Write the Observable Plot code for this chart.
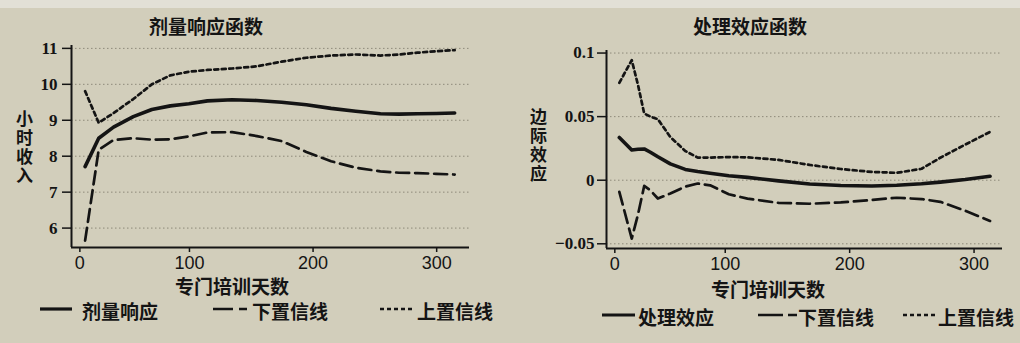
<!DOCTYPE html>
<html><head><meta charset="utf-8">
<script src="https://cdn.jsdelivr.net/npm/d3@7"></script>
<script src="https://cdn.jsdelivr.net/npm/@observablehq/plot@0.6"></script>
<style>
body{margin:0;background:#d2cebb;}
#root{position:relative;width:1020px;height:343px;overflow:hidden;background:#d2cebb;font-family:"Noto Sans CJK SC",sans-serif;color:#141414;}
#topband{position:absolute;left:0;top:0;width:1020px;height:8px;background:#e2e0d6;}
.abs{position:absolute;}
.ctr{white-space:nowrap;transform:translate(-50%,-50%);font-weight:700;}
.title{font-size:19px;}
.xlab{font-size:19px;}
.ylab{font-size:17px;line-height:20px;font-weight:700;writing-mode:vertical-rl;text-orientation:upright;letter-spacing:2px;white-space:nowrap;}
.leg{font-size:19px;font-weight:700;white-space:nowrap;transform:translateY(-50%);}
#root svg g[aria-label="y-axis tick label"]{font-weight:700 !important;font-family:"Liberation Serif",serif !important;font-size:17px !important;}
#root svg g[aria-label="x-axis tick label"]{font-family:"Liberation Sans",Arial,sans-serif !important;font-size:18px !important;}
</style></head>
<body><div id="root"><div id="topband"></div></div>
<script>
// ---- data: left panel (dose response) ----
const leftDays  = [1, 12, 24, 40, 55, 70, 85, 100, 120, 140, 160, 180, 200, 220, 240, 255, 270, 285, 300];
const doseResp  = [7.71, 8.5, 8.81, 9.1, 9.3, 9.4, 9.46, 9.54, 9.57, 9.55, 9.5, 9.43, 9.33, 9.25, 9.18, 9.17, 9.18, 9.19, 9.2];
const doseLow   = [5.65, 8.18, 8.45, 8.5, 8.46, 8.47, 8.55, 8.66, 8.67, 8.56, 8.42, 8.12, 7.86, 7.68, 7.58, 7.54, 7.53, 7.51, 7.49];
const doseHigh  = [9.81, 8.93, 9.2, 9.59, 10.0, 10.25, 10.35, 10.4, 10.44, 10.5, 10.63, 10.74, 10.8, 10.83, 10.8, 10.83, 10.88, 10.92, 10.95];
// ---- data: right panel (treatment effect) ----
const rightDays = [2, 12, 17, 22, 27, 33, 43, 55, 65, 75, 90, 105, 130, 155, 180, 205, 225, 245, 260, 280, 300];
const treatEff  = [0.0336, 0.0238, 0.0243, 0.0246, 0.022, 0.0184, 0.0128, 0.0085, 0.0068, 0.0055, 0.0035, 0.0022, -0.0005, -0.003, -0.0042, -0.0045, -0.004, -0.0028, -0.0015, 0.0005, 0.0031];
const treatLow  = [-0.0092, -0.0459, -0.027, -0.0045, -0.008, -0.0144, -0.0105, -0.005, -0.0026, -0.004, -0.011, -0.0145, -0.0178, -0.0185, -0.0175, -0.0155, -0.0138, -0.0148, -0.017, -0.024, -0.032];
const treatHigh = [0.0766, 0.0944, 0.075, 0.0525, 0.05, 0.048, 0.034, 0.023, 0.0178, 0.0178, 0.0182, 0.018, 0.016, 0.012, 0.0088, 0.0065, 0.0058, 0.009, 0.0177, 0.028, 0.038];
// ---- ticks and labels ----
const leftYTicks  = [6, 7, 8, 9, 10, 11];
const rightYTicks = [-0.05, 0, 0.05, 0.1];
const xTicks = [0, 100, 200, 300];
const leftTitle = "剂量响应函数", rightTitle = "处理效应函数";
const leftYLabel = "小时收入", rightYLabel = "边际效应";
const xLabel = "专门培训天数";
const leftLegend  = ["剂量响应", "下置信线", "上置信线"];
const rightLegend = ["处理效应", "下置信线", "上置信线"];

const INK = "#141414";
const rows = (days, vals) => days.map((d, i) => ({day: d, v: vals[i]}));
const root = document.getElementById("root");

function panel(o) {
  const [y0] = o.yDomain;
  const [x0] = o.xDomain;
  const tickFont = {fontSize: 17, fontWeight: "bold", fontFamily: "Liberation Serif", fill: INK};
  const xFont = {fontSize: 18, fontFamily: "Liberation Sans", fill: INK};
  return Plot.plot({
    width: 510, height: o.height,
    marginLeft: o.ml, marginRight: o.mr, marginTop: o.mt, marginBottom: o.mb,
    style: {background: "transparent", color: INK, overflow: "visible"},
    x: {domain: o.xDomain},
    y: {domain: o.yDomain},
    marks: [
      Plot.ruleY(o.yTicks, {stroke: "#8e8a7a", strokeDasharray: "1.5,2.5", strokeWidth: 1}),
      Plot.axisY(o.yTicks, {tickSize: o.yTickSize, tickPadding: o.yPad, strokeWidth: 1.5, label: null, tickFormat: o.yFmt, ...tickFont}),
      Plot.axisX([xTicks[0]], {tickSize: 5, tickPadding: 4, strokeWidth: 1.5, label: null, dx: o.dx0, ...xFont}),
      Plot.axisX(xTicks.slice(1), {tickSize: 5, tickPadding: 4, strokeWidth: 1.5, label: null, dx: o.dx1, ...xFont}),
      Plot.ruleX([x0], {stroke: INK, strokeWidth: 2}),
      Plot.ruleY([y0], {stroke: INK, strokeWidth: 2}),
      Plot.line(rows(o.days, o.high), {x: "day", y: "v", stroke: INK, strokeWidth: 2.7, strokeDasharray: "4,3.5"}),
      Plot.line(rows(o.days, o.low), {x: "day", y: "v", stroke: INK, strokeWidth: 2.7, strokeDasharray: "13,6"}),
      Plot.line(rows(o.days, o.mid), {x: "day", y: "v", stroke: INK, strokeWidth: 3.6})
    ]
  });
}

const leftSvg = panel({
  height: 275, ml: 71, mr: 41, mt: 45, mb: 28,
  xDomain: [-10, 312], yDomain: [5.46, 11.08], yTicks: leftYTicks,
  yTickSize: 9, yPad: 5, yFmt: d => String(d), dx0: -4, dx1: -18,
  days: leftDays, mid: doseResp, low: doseLow, high: doseHigh
});
const rightSvg = panel({
  height: 278, ml: 96, mr: 18, mt: 50, mb: 30,
  xDomain: [-8.3, 310], yDomain: [-0.0537, 0.102], yTicks: rightYTicks,
  yTickSize: 9, yPad: 3, yFmt: d => d === 0 ? "0" : String(d).replace("-", "\u2212"), dx0: -2, dx1: -16,
  days: rightDays, mid: treatEff, low: treatLow, high: treatHigh
});
leftSvg.style.position = "absolute"; leftSvg.style.left = "0px"; leftSvg.style.top = "0px";
rightSvg.style.position = "absolute"; rightSvg.style.left = "510px"; rightSvg.style.top = "0px";
root.appendChild(leftSvg); root.appendChild(rightSvg);

function addText(cls, txt, x, y) {
  const d = document.createElement("div");
  d.className = "abs " + cls; d.textContent = txt;
  d.style.left = x + "px"; d.style.top = y + "px";
  root.appendChild(d); return d;
}
addText("ctr title", leftTitle, 206, 25);
addText("ctr title", rightTitle, 750, 25);
addText("ctr xlab", xLabel, 232, 285);
addText("ctr xlab", xLabel, 768, 288);
addText("ylab", leftYLabel, 14, 110);
addText("ylab", rightYLabel, 528, 108);

function swatch(x1, x2, y, dash, w) {
  const ns = "http://www.w3.org/2000/svg";
  const s = document.createElementNS(ns, "svg");
  s.setAttribute("width", x2 - x1 + 2); s.setAttribute("height", 8);
  s.style.position = "absolute"; s.style.left = (x1 - 1) + "px"; s.style.top = (y - 4) + "px";
  const l = document.createElementNS(ns, "line");
  l.setAttribute("x1", 1); l.setAttribute("x2", x2 - x1 + 1); l.setAttribute("y1", 4); l.setAttribute("y2", 4);
  l.setAttribute("stroke", INK); l.setAttribute("stroke-width", w);
  if (dash) l.setAttribute("stroke-dasharray", dash);
  s.appendChild(l); root.appendChild(s);
}
// left legend
swatch(40, 72, 309, null, 3.2);      addText("leg", leftLegend[0], 82, 310);
swatch(213, 247, 309, "20,6", 2.6);  addText("leg", leftLegend[1], 252, 310);
swatch(380, 413, 309, "4,3", 2.4);   addText("leg", leftLegend[2], 417, 310);
// right legend
swatch(602, 635, 315, null, 3.2);    addText("leg", rightLegend[0], 638, 316);
swatch(758, 797, 315, "25,5", 2.6);  addText("leg", rightLegend[1], 798, 316);
swatch(903, 937, 315, "4,3", 2.4);   addText("leg", rightLegend[2], 938, 316);
</script></body></html>
